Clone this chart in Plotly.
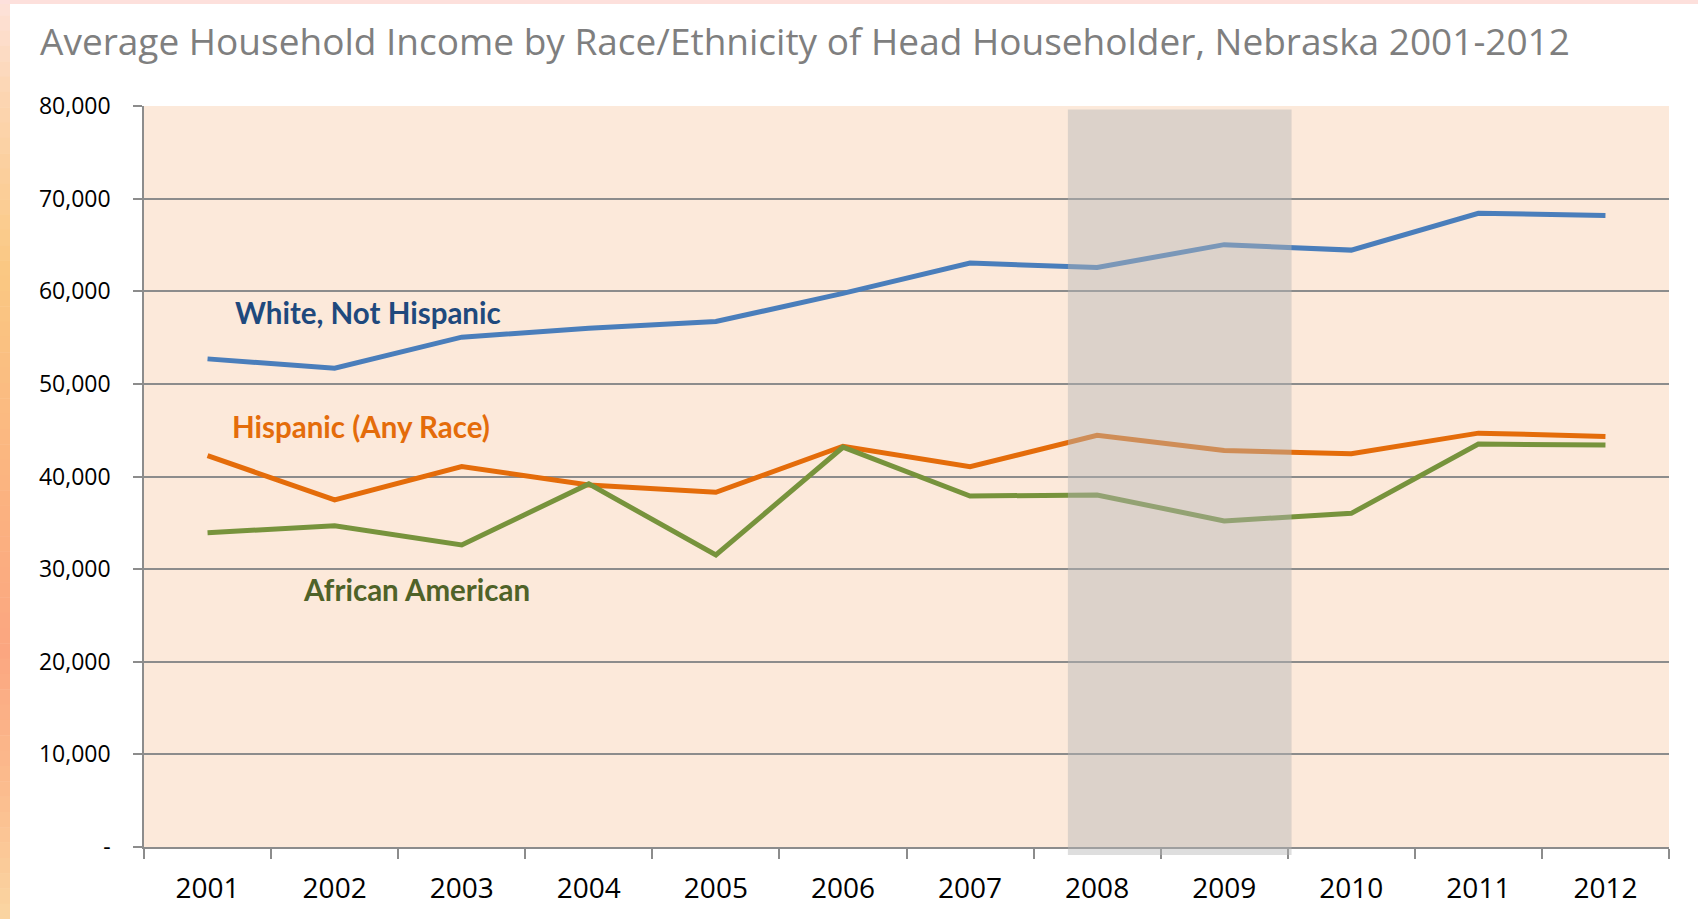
import plotly.graph_objects as go

# ---- data ----
years = ["2001", "2002", "2003", "2004", "2005", "2006",
         "2007", "2008", "2009", "2010", "2011", "2012"]
white_not_hispanic = [52700, 51700, 55040, 56010, 56730, 59770,
                      63040, 62570, 65030, 64440, 68420, 68190]
hispanic_any_race = [42260, 37470, 41070, 39090, 38300, 43270,
                     41050, 44440, 42810, 42460, 44680, 44330]
african_american = [33940, 34670, 32610, 39200, 31530, 43160,
                    37890, 38010, 35200, 36020, 43510, 43390]
y_tick_vals = [0, 10000, 20000, 30000, 40000, 50000, 60000, 70000, 80000]
y_tick_text = ["-", "10,000", "20,000", "30,000", "40,000",
               "50,000", "60,000", "70,000", "80,000"]
title_text = "Average Household Income by Race/Ethnicity of Head Householder, Nebraska 2001-2012"

# ---- layout geometry (pixels) ----
W, H = 1698, 919
L, R, T, B = 144, 1669, 106, 847


def px_x(p):
    return (p - L) / (R - L)


def px_y(p):
    return (B - p) / (B - T)


fig = go.Figure()

series = [
    (white_not_hispanic, "#4A7EBB"),
    (hispanic_any_race, "#E46C0A"),
    (african_american, "#77933C"),
]
for vals, col in series:
    fig.add_trace(go.Scatter(x=years, y=vals, mode="lines",
                             line=dict(color=col, width=5),
                             showlegend=False, hoverinfo="skip"))

shapes = []
# left gradient strip
stops = [(0, (253, 226, 218)), (90, (252, 214, 180)), (270, (250, 200, 130)),
         (500, (251, 178, 128)), (650, (251, 166, 128)), (800, (251, 190, 143)),
         (919, (250, 214, 162))]
n = 60
for i in range(n):
    y0 = H * i / n
    y1 = H * (i + 1) / n
    ym = (y0 + y1) / 2
    for (a, ca), (b, cb) in zip(stops[:-1], stops[1:]):
        if a <= ym <= b:
            t = (ym - a) / (b - a)
            c = tuple(int(round(ca[k] + (cb[k] - ca[k]) * t)) for k in range(3))
            break
    shapes.append(dict(type="rect", xref="paper", yref="paper",
                       x0=px_x(0), x1=px_x(10), y0=px_y(y1 + 0.5), y1=px_y(y0),
                       fillcolor="rgb(%d,%d,%d)" % c, line=dict(width=0), layer="below"))
# top band
shapes.append(dict(type="rect", xref="paper", yref="paper",
                   x0=px_x(0), x1=px_x(W), y0=px_y(4), y1=px_y(0),
                   fillcolor="#FDE0DC", line=dict(width=0), layer="below"))
# recession shading
shapes.append(dict(type="rect", xref="x", yref="paper",
                   x0=6.77, x1=8.53, y0=px_y(855), y1=px_y(109.5),
                   fillcolor="rgb(182,182,182)", opacity=0.45,
                   line=dict(width=0), layer="above"))

annotations = [
    dict(x=px_x(38), y=px_y(41), xref="paper", yref="paper", text=title_text,
         showarrow=False, xanchor="left", yanchor="middle",
         font=dict(family="Open Sans", size=37, color="#7F7F7F")),
    dict(x=0.2, y=57660, xref="x", yref="y", text="<b>White, Not Hispanic</b>",
         showarrow=False, xanchor="left", yanchor="middle",
         font=dict(family="Lato", size=29.5, color="#1F497D")),
    dict(x=0.177, y=45360, xref="x", yref="y", text="<b>Hispanic (Any Race)</b>",
         showarrow=False, xanchor="left", yanchor="middle",
         font=dict(family="Lato", size=29.5, color="#E46C0A")),
    dict(x=0.735, y=27750, xref="x", yref="y", text="<b>African American</b>",
         showarrow=False, xanchor="left", yanchor="middle",
         font=dict(family="Lato", size=29.5, color="#4F6228")),
]

fig.update_layout(
    width=W, height=H,
    margin=dict(l=L, r=W - R, t=T, b=H - B, pad=0),
    paper_bgcolor="white",
    plot_bgcolor="#FCE9DA",
    shapes=shapes,
    annotations=annotations,
    xaxis=dict(type="category", range=[-0.5, 11.5], tickson="boundaries",
               ticks="outside", ticklen=10, tickcolor="#8C8C8C", tickwidth=1.5,
               showline=True, linecolor="#8C8C8C", linewidth=1.5,
               showgrid=False, ticklabelstandoff=16,
               tickfont=dict(family="Open Sans", size=28, color="black")),
    yaxis=dict(range=[0, 80000], tickvals=y_tick_vals, ticktext=y_tick_text,
               ticks="outside", ticklen=9, tickcolor="#8C8C8C", tickwidth=1.5,
               showline=True, linecolor="#8C8C8C", linewidth=1.5,
               showgrid=True, gridcolor="#8C8C8C", gridwidth=1.5,
               zeroline=False, ticklabelstandoff=18,
               tickfont=dict(family="Open Sans", size=23, color="black")),
)

fig.write_html("out.html", config={"displayModeBar": False})

# remove the default page margin so the figure sits at the window's corner
with open("out.html", "r", encoding="utf-8") as f:
    html = f.read()
html = html.replace("<head>", "<head><style>html,body{margin:0;padding:0;}</style>", 1)
with open("out.html", "w", encoding="utf-8") as f:
    f.write(html)
